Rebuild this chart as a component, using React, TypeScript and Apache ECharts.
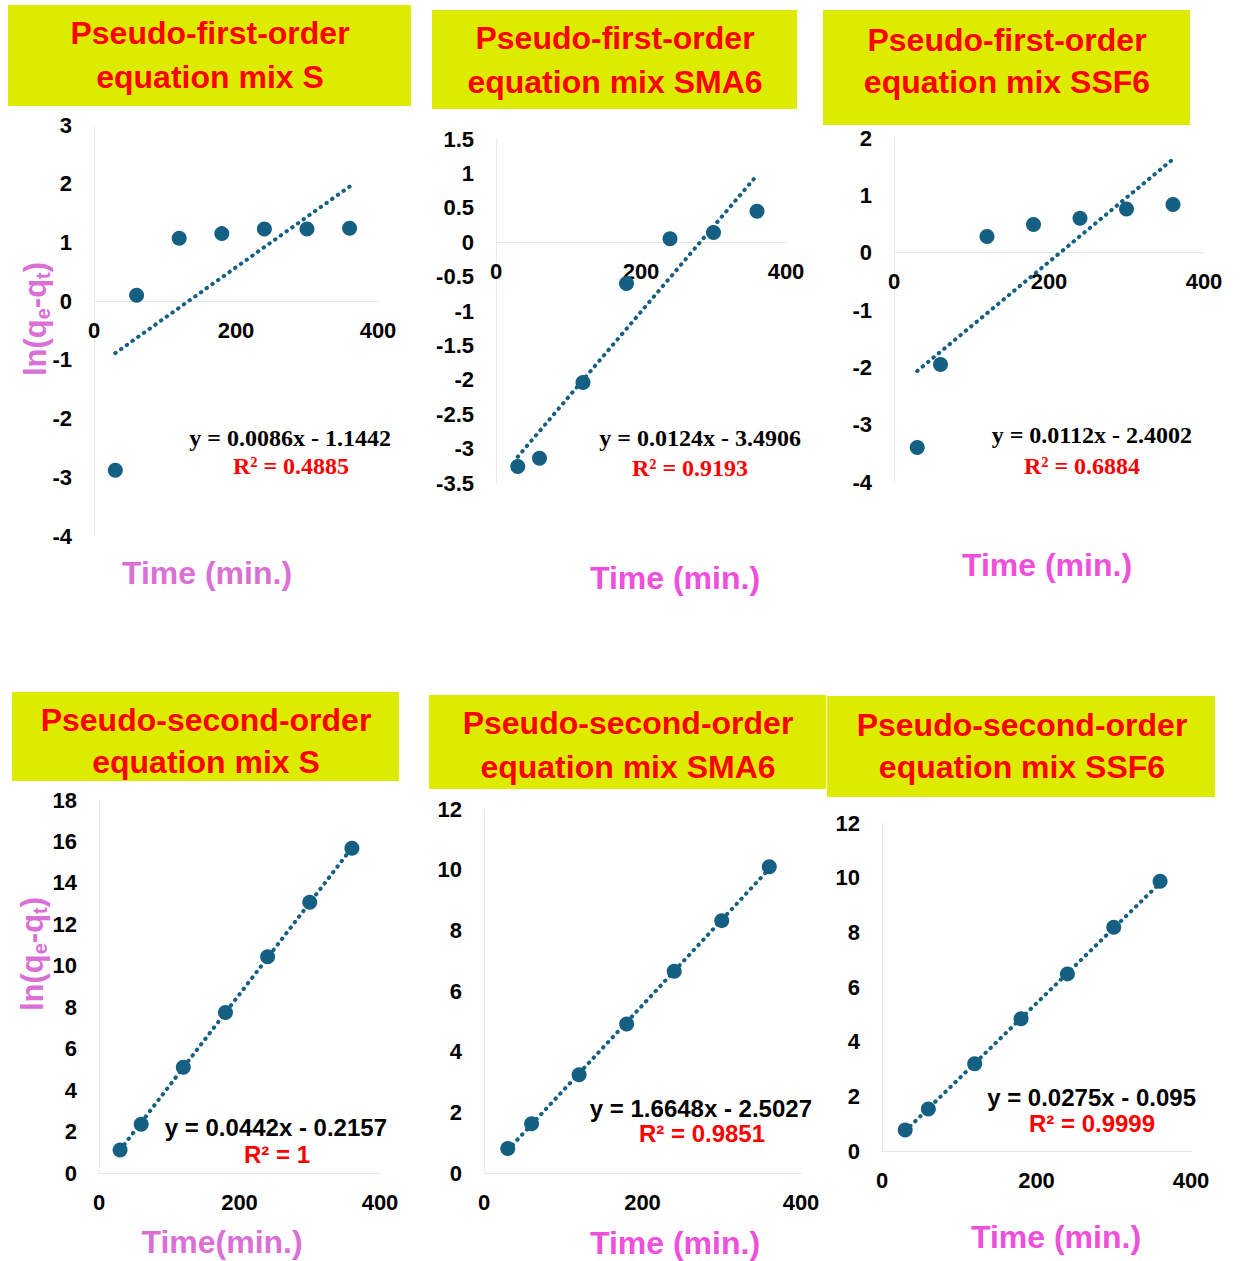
import React, { useEffect, useRef } from "react";
import * as echarts from "echarts";

// ---------- data ----------
const timeMin = [30, 60, 120, 180, 240, 300, 360];

const pfoMixS = [-2.88, 0.1, 1.07, 1.15, 1.23, 1.23, 1.24];
const pfoMixSMA6 = [-3.26, -3.14, -2.04, -0.6, 0.05, 0.14, 0.45];
const pfoMixSSF6 = [-3.4, -1.95, 0.28, 0.49, 0.6, 0.76, 0.84];
const psoMixS = [1.11, 2.35, 5.1, 7.74, 10.44, 13.06, 15.67];
const psoMixSMA6 = [0.81, 1.62, 3.24, 4.91, 6.65, 8.32, 10.1];
const psoMixSSF6 = [0.77, 1.54, 3.19, 4.84, 6.48, 8.19, 9.87];

// trendline end points at x = 30 and x = 360
const trendX = [30, 360];
const trendPfoMixS = [-0.886, 1.952];
const trendPfoMixSMA6 = [-3.119, 0.973];
const trendPfoMixSSF6 = [-2.064, 1.632];
const trendPsoMixS = [1.11, 15.696];
const trendPsoMixSMA6 = [0.755, 10.03];
const trendPsoMixSSF6 = [0.73, 9.805];

const titles = [
  "Pseudo-first-order\nequation mix S",
  "Pseudo-first-order\nequation mix SMA6",
  "Pseudo-first-order\nequation mix SSF6",
  "Pseudo-second-order\nequation mix S",
  "Pseudo-second-order\nequation mix SMA6",
  "Pseudo-second-order\nequation mix SSF6",
];
const equations = [
  "y = 0.0086x - 1.1442",
  "y = 0.0124x - 3.4906",
  "y = 0.0112x - 2.4002",
  "y = 0.0442x - 0.2157",
  "y = 1.6648x - 2.5027",
  "y = 0.0275x - 0.095",
];
const r2Texts = ["R² = 0.4885", "R² = 0.9193", "R² = 0.6884", "R² = 1", "R² = 0.9851", "R² = 0.9999"];
const xTitles = ["Time (min.)", "Time (min.)", "Time (min.)", "Time(min.)", "Time (min.)", "Time (min.)"];

const yMins = [-4, -3.5, -4, 0, 0, 0];
const yMaxs = [3, 1.5, 2, 18, 12, 12];
const yIntervals = [1, 0.5, 1, 2, 2, 2];
const xMin = 0;
const xMax = 400;
const xInterval = 200;

const seriesValues = [pfoMixS, pfoMixSMA6, pfoMixSSF6, psoMixS, psoMixSMA6, psoMixSSF6];
const trendValues = [trendPfoMixS, trendPfoMixSMA6, trendPfoMixSSF6, trendPsoMixS, trendPsoMixSMA6, trendPsoMixSSF6];

// ---------- layout / style ----------
const SANS = '"Liberation Sans", Arial, sans-serif';
const SERIF = '"Liberation Serif", "Times New Roman", serif';
const DOT = "#156082";
const YELLOW = "#DCEB00";
const ORCHID = "#DA70D6";
const MAGENTA = "#EE50DC";

const grids = [
  { left: 94, top: 125, width: 284, height: 411 },
  { left: 496, top: 139, width: 290, height: 344 },
  { left: 894, top: 138, width: 310, height: 344 },
  { left: 99, top: 800, width: 281, height: 373 },
  { left: 484, top: 809, width: 317, height: 364 },
  { left: 882, top: 823, width: 309, height: 328 },
];
const titleBoxes = [
  [8, 5, 403, 101],
  [432, 10, 365, 99],
  [823, 10, 367, 115],
  [12, 692, 387, 89],
  [429, 695, 397, 94],
  [827, 696, 388, 101],
];
const titlePos = [
  [210, 55, 44],
  [615, 60, 44],
  [1007, 61, 42],
  [206, 741, 42],
  [628, 745, 44],
  [1022, 746, 42],
];
const eqPos = [
  [391, 438],
  [801, 438],
  [1192, 435],
  [387, 1127],
  [812, 1108],
  [1196, 1097],
];
const r2Pos = [
  [291, 466],
  [690, 468],
  [1082, 466],
  [277, 1154],
  [702, 1133],
  [1092, 1123],
];
const xTitlePos = [
  [207, 573],
  [675, 578],
  [1047, 565],
  [222, 1242],
  [675, 1243],
  [1056, 1237],
];
const xTitleColors = [ORCHID, MAGENTA, MAGENTA, ORCHID, MAGENTA, MAGENTA];
const yTitlePos = [
  [36, 319],
  [33, 954],
];

export default function App() {
  const ref = useRef<HTMLDivElement>(null);

  useEffect(() => {
    if (!ref.current) return;
    const chart = echarts.init(ref.current, null, { renderer: "svg" });

    const xAxis = grids.map((g, i) => {
      // place the x axis (line + labels) at y = 0 inside the grid
      const zeroOffset = yMins[i] < 0 ? -(g.height * (0 - yMins[i])) / (yMaxs[i] - yMins[i]) : 0;
      return {
        type: "value",
        gridIndex: i,
        min: xMin,
        max: xMax,
        interval: xInterval,
        position: "bottom",
        offset: zeroOffset,
        axisLine: { show: true, onZero: false, lineStyle: { color: "#E6E6E6", width: 1 } },
        axisTick: { show: false },
        splitLine: { show: false },
        axisLabel: {
          show: true,
          margin: 18,
          color: "#000",
          fontSize: 22,
          fontWeight: "bold",
          fontFamily: SANS,
          showMinLabel: true,
          showMaxLabel: true,
        },
      };
    });

    const yAxis = grids.map((_, i) => ({
      type: "value",
      gridIndex: i,
      min: yMins[i],
      max: yMaxs[i],
      interval: yIntervals[i],
      axisLine: { show: true, onZero: false, lineStyle: { color: "#EBEBEB", width: 1 } },
      axisTick: { show: false },
      splitLine: { show: false },
      axisLabel: {
        show: true,
        margin: 22,
        color: "#000",
        fontSize: 22,
        fontWeight: "bold",
        fontFamily: SANS,
        showMinLabel: true,
        showMaxLabel: true,
      },
    }));

    const series: any[] = [];
    seriesValues.forEach((vals, i) => {
      series.push({
        type: "line",
        xAxisIndex: i,
        yAxisIndex: i,
        data: trendX.map((x, k) => [x, trendValues[i][k]]),
        showSymbol: false,
        symbol: "none",
        silent: true,
        z: 2,
        lineStyle: { color: DOT, width: 4, type: [0.5, 6.5], cap: "round", opacity: 1 },
      });
      series.push({
        type: "scatter",
        xAxisIndex: i,
        yAxisIndex: i,
        data: timeMin.map((t, k) => [t, vals[k]]),
        symbol: "circle",
        symbolSize: 15,
        z: 3,
        itemStyle: { color: DOT, opacity: 1 },
      });
    });

    const graphic: any[] = [];
    titleBoxes.forEach(([x, y, w, h], i) => {
      graphic.push({
        type: "rect",
        shape: { x, y, width: w, height: h },
        style: { fill: YELLOW },
        z: -10,
      });
      const [tx, ty, lh] = titlePos[i];
      graphic.push({
        type: "text",
        x: tx,
        y: ty,
        z: 10,
        style: {
          text: titles[i],
          fill: "#FF0000",
          fontSize: 32,
          fontWeight: "bold",
          fontFamily: SANS,
          lineHeight: lh,
          align: "center",
          verticalAlign: "middle",
        },
      });
    });

    equations.forEach((eq, i) => {
      const serif = i < 3;
      const fam = serif ? SERIF : SANS;
      graphic.push({
        type: "text",
        x: eqPos[i][0],
        y: eqPos[i][1],
        z: 10,
        style: {
          text: eq,
          fill: "#000",
          fontSize: 24,
          fontWeight: "bold",
          fontFamily: fam,
          align: "right",
          verticalAlign: "middle",
        },
      });
      graphic.push({
        type: "text",
        x: r2Pos[i][0],
        y: r2Pos[i][1],
        z: 10,
        style: {
          text: r2Texts[i],
          fill: "#FF0000",
          fontSize: 24,
          fontWeight: "bold",
          fontFamily: fam,
          align: "center",
          verticalAlign: "middle",
        },
      });
      graphic.push({
        type: "text",
        x: xTitlePos[i][0],
        y: xTitlePos[i][1],
        z: 10,
        style: {
          text: xTitles[i],
          fill: xTitleColors[i],
          fontSize: 32,
          fontWeight: "bold",
          fontFamily: SANS,
          align: "center",
          verticalAlign: "middle",
        },
      });
    });

    yTitlePos.forEach(([x, y]) => {
      graphic.push({
        type: "text",
        x,
        y,
        z: 10,
        rotation: Math.PI / 2,
        style: {
          text: "{a|ln(q}{b|e}{a|-q}{b|t}{a|)}",
          align: "center",
          verticalAlign: "middle",
          rich: {
            a: {
              fill: ORCHID,
              fontSize: 31,
              fontWeight: "bold",
              fontFamily: SANS,
              lineHeight: 33,
              verticalAlign: "top",
            },
            b: {
              fill: ORCHID,
              fontSize: 20,
              fontWeight: "bold",
              fontFamily: SANS,
              lineHeight: 20,
              padding: [18, 0, 0, 0],
              verticalAlign: "bottom",
            },
          },
        },
      });
    });

    chart.setOption({
      animation: false,
      backgroundColor: "#FFFFFF",
      grid: grids.map((g) => ({ ...g, containLabel: false })),
      xAxis,
      yAxis,
      series,
      graphic: { elements: graphic },
    });

    return () => chart.dispose();
  }, []);

  return (
    <div
      ref={ref}
      style={{ position: "absolute", left: 0, top: 0, width: 1242, height: 1261, background: "#fff" }}
    />
  );
}
